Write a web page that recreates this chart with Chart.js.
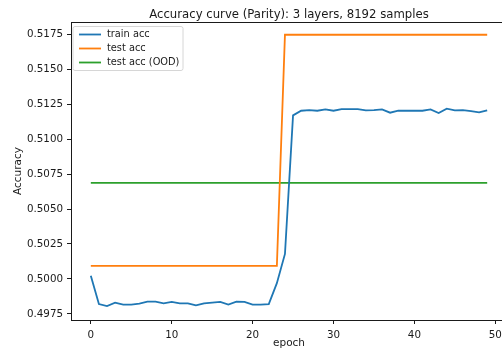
<!DOCTYPE html>
<html>
<head>
<meta charset="utf-8">
<script src="https://cdn.jsdelivr.net/npm/chart.js@4"></script>
<style>
  html, body { margin: 0; padding: 0; background: #fff; overflow: hidden; }
  #wrap { width: 507px; height: 350px; position: relative; }
</style>
</head>
<body>
<div id="wrap"><canvas id="accChart"></canvas></div>
<script>
// data
const epochs = [0, 1, 2, 3, 4, 5, 6, 7, 8, 9, 10, 11, 12, 13, 14, 15, 16, 17, 18, 19,
  20, 21, 22, 23, 24, 25, 26, 27, 28, 29, 30, 31, 32, 33, 34, 35, 36, 37, 38, 39,
  40, 41, 42, 43, 44, 45, 46, 47, 48, 49];
const trainAcc = [0.50024, 0.49821, 0.49807, 0.49831, 0.49817, 0.49817, 0.49824, 0.49838, 0.49838, 0.49826,
  0.49836, 0.49826, 0.49826, 0.49812, 0.49826, 0.49831, 0.49836, 0.49817, 0.49838, 0.49836,
  0.49817, 0.49817, 0.49821, 0.49970, 0.50179, 0.51169, 0.51202, 0.51207, 0.51202, 0.51212,
  0.51202, 0.51214, 0.51214, 0.51214, 0.51205, 0.51207, 0.51212, 0.51188, 0.51202, 0.51202,
  0.51202, 0.51202, 0.51212, 0.51186, 0.51217, 0.51205, 0.51207, 0.51200, 0.51190, 0.51205];
const testAcc = [0.50093, 0.50093, 0.50093, 0.50093, 0.50093, 0.50093, 0.50093, 0.50093, 0.50093, 0.50093,
  0.50093, 0.50093, 0.50093, 0.50093, 0.50093, 0.50093, 0.50093, 0.50093, 0.50093, 0.50093,
  0.50093, 0.50093, 0.50093, 0.50093, 0.51745, 0.51745, 0.51745, 0.51745, 0.51745, 0.51745,
  0.51745, 0.51745, 0.51745, 0.51745, 0.51745, 0.51745, 0.51745, 0.51745, 0.51745, 0.51745,
  0.51745, 0.51745, 0.51745, 0.51745, 0.51745, 0.51745, 0.51745, 0.51745, 0.51745, 0.51745];
const testAccOOD = [0.50687, 0.50687, 0.50687, 0.50687, 0.50687, 0.50687, 0.50687, 0.50687, 0.50687, 0.50687,
  0.50687, 0.50687, 0.50687, 0.50687, 0.50687, 0.50687, 0.50687, 0.50687, 0.50687, 0.50687,
  0.50687, 0.50687, 0.50687, 0.50687, 0.50687, 0.50687, 0.50687, 0.50687, 0.50687, 0.50687,
  0.50687, 0.50687, 0.50687, 0.50687, 0.50687, 0.50687, 0.50687, 0.50687, 0.50687, 0.50687,
  0.50687, 0.50687, 0.50687, 0.50687, 0.50687, 0.50687, 0.50687, 0.50687, 0.50687, 0.50687];
const xTicks = [0, 10, 20, 30, 40, 50];
const yTicks = [0.4975, 0.5000, 0.5025, 0.5050, 0.5075, 0.5100, 0.5125, 0.5150, 0.5175];
const seriesNames = ['train acc', 'test acc', 'test acc (OOD)'];
const seriesColors = ['#1f77b4', '#ff7f0e', '#2ca02c'];
const chartTitle = 'Accuracy curve (Parity): 3 layers, 8192 samples';

const FONT = 'DejaVu Sans';
const INK = '#1a1a1a';

function toPoints(ys) {
  return epochs.map((e, i) => ({ x: e, y: ys[i] }));
}

// title centred on the plot, box around the plot, legend in the upper left
const frameAndLegend = {
  id: 'frameAndLegend',
  afterDatasetsDraw(chart) {
    const { ctx, chartArea: a } = chart;
    ctx.save();
    ctx.strokeStyle = INK;
    ctx.lineWidth = 1;
    ctx.strokeRect(a.left + 0.5, a.top + 0.5, a.right - a.left, a.bottom - a.top);

    ctx.fillStyle = INK;
    ctx.font = '11.7px "' + FONT + '"';
    ctx.textAlign = 'center';
    ctx.textBaseline = 'middle';
    ctx.fillText(chartTitle, (a.left + a.right) / 2, 14.5);

    const bx = a.left + 2, by = a.top + 4.5, bw = 110, bh = 44;
    ctx.beginPath();
    ctx.roundRect(bx, by, bw, bh, 2);
    ctx.fillStyle = 'rgba(255,255,255,0.8)';
    ctx.fill();
    ctx.strokeStyle = '#d6d6d6';
    ctx.stroke();

    ctx.font = '9.8px "' + FONT + '"';
    ctx.textAlign = 'left';
    seriesNames.forEach((name, i) => {
      const y = by + 8 + i * 14;
      ctx.beginPath();
      ctx.moveTo(bx + 6, y);
      ctx.lineTo(bx + 28, y);
      ctx.strokeStyle = seriesColors[i];
      ctx.lineWidth = 1.8;
      ctx.stroke();
      ctx.fillStyle = INK;
      ctx.fillText(name, bx + 34, y);
    });
    ctx.restore();
  }
};

const accCtx = document.getElementById('accChart').getContext('2d');
const accChart = new Chart(accCtx, {
  type: 'line',
  data: {
    datasets: [{
      label: seriesNames[0],
      data: toPoints(trainAcc),
      borderColor: seriesColors[0],
      borderWidth: 1.8,
      pointRadius: 0,
      tension: 0,
      fill: false
    }, {
      label: seriesNames[1],
      data: toPoints(testAcc),
      borderColor: seriesColors[1],
      borderWidth: 1.8,
      pointRadius: 0,
      tension: 0,
      fill: false
    }, {
      label: seriesNames[2],
      data: toPoints(testAccOOD),
      borderColor: seriesColors[2],
      borderWidth: 1.8,
      pointRadius: 0,
      tension: 0,
      fill: false
    }]
  },
  options: {
    responsive: true,
    maintainAspectRatio: false,
    animation: false,
    events: [],
    layout: { padding: { left: 12, right: 0, top: 22, bottom: 0 } },
    plugins: {
      legend: { display: false },
      tooltip: { enabled: false },
      title: { display: false }
    },
    scales: {
      x: {
        type: 'linear',
        min: -2.45,
        max: 51.45,
        afterBuildTicks: (s) => { s.ticks = xTicks.map(v => ({ value: v })); },
        afterFit: (s) => { s.height = 30; },
        ticks: {
          color: INK,
          font: { family: FONT, size: 10.3 },
          padding: 5,
          maxRotation: 0,
          callback: (v) => String(v)
        },
        grid: { drawOnChartArea: false, drawTicks: true, tickLength: 4, color: INK },
        border: { display: true, color: INK },
        title: {
          display: true,
          text: 'epoch',
          color: INK,
          font: { family: FONT, size: 10.5 },
          padding: { top: 0, bottom: 0 }
        }
      },
      y: {
        type: 'linear',
        min: 0.49707,
        max: 0.51836,
        afterBuildTicks: (s) => { s.ticks = yTicks.map(v => ({ value: v })); },
        afterFit: (s) => { s.width = 59; },
        ticks: {
          color: INK,
          font: { family: FONT, size: 10.3 },
          padding: 4,
          callback: (v) => v.toFixed(4)
        },
        grid: { drawOnChartArea: false, drawTicks: true, tickLength: 4, color: INK },
        border: { display: true, color: INK },
        title: {
          display: true,
          text: 'Accuracy',
          color: INK,
          font: { family: FONT, size: 10.5 },
          padding: { top: 0, bottom: 0 }
        }
      }
    }
  },
  plugins: [frameAndLegend]
});
</script>
</body>
</html>
